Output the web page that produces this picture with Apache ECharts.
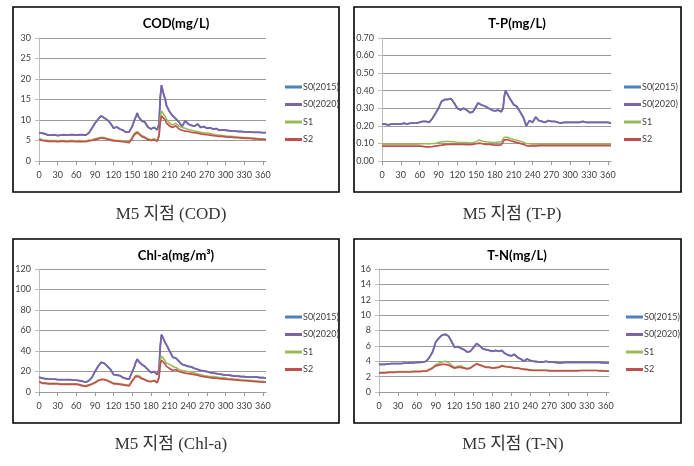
<!DOCTYPE html>
<html>
<head>
<meta charset="utf-8">
<script src="https://cdn.jsdelivr.net/npm/echarts@6/dist/echarts.min.js"></script>
<style>
html,body{margin:0;padding:0;background:#fff;}
#chart{width:694px;height:466px;}
</style>
</head>
<body>
<div id="chart"></div>
<script>
// ---- data ----
const seriesNames = ['S0(2015)', 'S0(2020)', 'S1', 'S2'];
const xTicks = [0, 30, 60, 90, 120, 150, 180, 210, 240, 270, 300, 330, 360];
const days = [0,5,10,15,20,25,30,35,40,45,
  50,55,60,65,70,75,80,85,90,95,
  100,105,110,115,120,125,130,135,140,145,
  148,150,153,155,158,160,165,170,175,180,
  185,190,193,195,197,200,203,205,210,215,
  220,225,230,235,240,245,250,255,260,265,
  270,275,280,285,290,295,300,305,310,315,
  320,325,330,335,340,345,350,355,360,365];

// COD (mg/L)
const codS0_2020 = [6.9,6.8,6.6,6.3,6.3,6.4,6.2,6.3,6.4,6.3,
  6.4,6.4,6.3,6.4,6.4,6.3,6.8,8.0,9.2,10.2,
  11.0,10.5,10.0,9.2,8.0,8.3,7.8,7.5,7.0,7.1,
  7.0,8.5,9.8,10.5,11.7,10.8,9.8,9.5,8.3,7.8,
  8.2,7.6,9.0,15.5,18.5,16.5,15.0,13.5,12.0,11.0,
  10.3,9.5,8.4,9.8,9.0,8.7,8.5,9.0,8.2,8.4,
  8.0,8.1,7.8,7.9,7.5,7.6,7.5,7.4,7.3,7.3,
  7.2,7.2,7.1,7.1,7.1,7.0,7.0,7.0,6.9,6.9];
const codS0_2015 = codS0_2020; // hidden under S0(2020) in the reference
const codS1 = [5.5,5.2,5.1,5.0,5.0,5.0,4.9,5.0,5.0,4.9,
  5.0,5.0,4.9,5.0,4.9,4.9,5.1,5.2,5.4,5.6,
  5.8,5.7,5.5,5.3,5.1,5.0,5.0,4.9,4.8,4.7,
  4.8,5.8,6.7,7.0,7.2,6.8,6.2,5.9,5.4,5.2,
  5.4,5.0,6.5,10.5,12.2,11.5,10.8,10.2,9.2,8.8,
  9.2,8.5,8.2,8.0,7.7,7.5,7.3,7.2,7.0,6.9,
  6.8,6.7,6.5,6.4,6.3,6.2,6.1,6.0,6.0,5.9,
  5.8,5.8,5.7,5.7,5.6,5.6,5.5,5.4,5.4,5.3];
const codS2 = [5.3,5.0,4.9,4.8,4.8,4.8,4.7,4.8,4.8,4.7,
  4.8,4.8,4.7,4.8,4.7,4.7,4.9,5.0,5.2,5.4,
  5.6,5.5,5.3,5.1,4.9,4.9,4.8,4.7,4.6,4.5,
  4.6,5.5,6.4,6.8,6.9,6.5,6.0,5.7,5.2,5.0,
  5.2,4.8,6.0,9.5,11.0,10.5,10.0,9.3,8.5,8.2,
  8.6,7.8,7.5,7.3,7.2,7.0,6.9,6.8,6.6,6.5,
  6.4,6.3,6.2,6.1,6.0,6.0,5.9,5.8,5.8,5.7,
  5.7,5.6,5.6,5.5,5.5,5.4,5.4,5.3,5.3,5.2];

// T-P (mg/L)
const tpS0_2020 = [0.21,0.21,0.205,0.21,0.21,0.21,0.21,0.215,0.21,0.215,
  0.215,0.215,0.22,0.225,0.225,0.22,0.24,0.27,0.30,0.34,
  0.35,0.35,0.355,0.33,0.30,0.29,0.30,0.29,0.275,0.28,
  0.285,0.31,0.33,0.335,0.32,0.32,0.31,0.30,0.29,0.285,
  0.29,0.28,0.30,0.37,0.40,0.38,0.36,0.35,0.32,0.31,
  0.28,0.25,0.20,0.23,0.22,0.25,0.23,0.225,0.22,0.23,
  0.225,0.225,0.22,0.215,0.22,0.22,0.22,0.22,0.22,0.22,
  0.225,0.22,0.22,0.22,0.22,0.22,0.22,0.22,0.22,0.215];
const tpS0_2015 = tpS0_2020;
const tpS1 = [0.095,0.095,0.095,0.095,0.095,0.095,0.095,0.095,0.095,0.095,
  0.095,0.095,0.097,0.098,0.098,0.097,0.10,0.10,0.105,0.11,
  0.11,0.112,0.11,0.11,0.105,0.105,0.105,0.105,0.102,0.105,
  0.105,0.11,0.115,0.12,0.118,0.112,0.11,0.108,0.105,0.105,
  0.108,0.11,0.12,0.135,0.14,0.135,0.13,0.128,0.122,0.118,
  0.112,0.108,0.10,0.098,0.097,0.095,0.095,0.095,0.095,0.095,
  0.095,0.095,0.095,0.095,0.095,0.095,0.095,0.095,0.095,0.095,
  0.095,0.095,0.095,0.095,0.095,0.095,0.095,0.095,0.095,0.095];
const tpS2 = [0.085,0.085,0.085,0.085,0.085,0.085,0.085,0.085,0.085,0.085,
  0.085,0.085,0.085,0.083,0.08,0.08,0.082,0.085,0.088,0.09,
  0.093,0.095,0.095,0.095,0.095,0.095,0.095,0.093,0.093,0.095,
  0.095,0.098,0.10,0.102,0.10,0.098,0.095,0.095,0.093,0.09,
  0.09,0.092,0.10,0.12,0.128,0.122,0.118,0.115,0.11,0.105,
  0.10,0.095,0.088,0.085,0.087,0.085,0.087,0.088,0.087,0.087,
  0.088,0.087,0.088,0.087,0.088,0.088,0.087,0.088,0.088,0.088,
  0.088,0.088,0.088,0.088,0.088,0.087,0.087,0.087,0.087,0.087];

// Chl-a (mg/m3)
const chlS0_2020 = [14.5,13.5,13,12.5,12.5,12.5,12,12,12,12,
  12,11.5,11.5,11,10.5,9.5,11,14,20,25,
  29,28,25,22,17,16.5,16,14,13,12.5,
  12,20,24,28,32,30,27,25,22,19,
  20,17,22,45,56,52,48,46,40,34,
  33,30,27,26,25,24.5,23,22,21,20.5,
  20,19,18.5,18,17.5,17,16.5,16.5,16,15.5,
  15.5,15,15,14.5,14.5,14.5,14.5,14,14,13.5];
const chlS0_2015 = chlS0_2020;
const chlS1 = [10.5,9,9,8.5,8.5,8.5,8.5,8,8,8,
  8,8,8,7.5,6.5,6,7,8,9.5,11.5,
  12.5,12.5,11.5,10,8.5,8.5,8,7.5,7,6.5,
  6.5,11.5,14,16,17.5,16,14,12.5,11,10.5,
  11.5,9.5,15,30,35,33,30,28,27,25,
  24,22,21,20.5,20,19,18.5,17.5,17,16,
  15.5,15,15,14.5,14,14,13.5,13,13,12.5,
  12.5,12,12,11.5,11.5,11,11,10.5,10.5,10];
const chlS2 = [10,8.5,8.5,8,8,8,8,7.5,7.5,7.5,
  7.5,7.5,7.5,7,6,5.5,6.5,7.5,9,11,
  12,12,11,9.5,8,8,7.5,7,6.5,6,
  6,11,13,15,16.5,15,13,12,10.5,10,
  11,9,14,27,31,29,27,25,23,21,
  22,20,19,18.5,18,17.5,17,16.5,15.5,15,
  14.5,14,13.5,13.5,13,12.8,12.5,12.2,12,11.8,
  11.5,11.2,11,10.8,10.5,10.3,10,9.8,9.5,9.5];

// T-N (mg/L)
const tnS0_2020 = [3.6,3.6,3.6,3.65,3.7,3.7,3.7,3.7,3.75,3.75,
  3.8,3.8,3.85,3.85,3.9,4.0,4.5,5.2,6.5,7.0,
  7.4,7.5,7.3,6.6,5.8,5.9,5.7,5.5,5.2,5.3,
  5.5,5.8,6.0,6.3,6.2,6.0,5.6,5.5,5.4,5.3,
  5.4,5.3,5.5,5.4,5.2,5.0,5.0,4.8,4.7,4.9,
  4.5,4.3,4.0,4.3,4.1,4.0,3.95,3.9,3.9,4.0,
  3.9,3.9,3.85,3.8,3.8,3.85,3.85,3.85,3.85,3.85,
  3.85,3.85,3.85,3.85,3.85,3.85,3.85,3.8,3.8,3.8];
const tnS0_2015 = tnS0_2020;
const tnS1 = [2.55,2.55,2.55,2.6,2.6,2.6,2.65,2.65,2.65,2.65,
  2.65,2.7,2.7,2.7,2.75,2.75,2.95,3.2,3.55,3.75,
  3.9,4.0,3.85,3.5,3.2,3.35,3.4,3.2,3.05,3.15,
  3.35,3.45,3.6,3.7,3.75,3.55,3.4,3.25,3.25,3.15,
  3.2,3.25,3.35,3.45,3.45,3.35,3.3,3.3,3.25,3.15,
  3.15,3.05,3.0,2.95,2.9,2.85,2.85,2.85,2.85,2.85,
  2.8,2.8,2.8,2.8,2.8,2.8,2.8,2.8,2.8,2.8,
  2.8,2.8,2.8,2.8,2.8,2.8,2.8,2.8,2.75,2.75];
const tnS2 = [2.5,2.5,2.5,2.55,2.55,2.55,2.6,2.6,2.6,2.6,
  2.6,2.65,2.65,2.65,2.7,2.7,2.9,3.1,3.4,3.5,
  3.6,3.6,3.5,3.3,3.1,3.2,3.2,3.1,3.0,3.1,
  3.3,3.4,3.55,3.65,3.7,3.5,3.35,3.2,3.2,3.1,
  3.15,3.2,3.3,3.4,3.4,3.3,3.25,3.25,3.2,3.1,
  3.1,3.0,2.95,2.9,2.85,2.8,2.8,2.8,2.8,2.8,
  2.75,2.75,2.75,2.75,2.75,2.75,2.75,2.75,2.75,2.75,
  2.8,2.8,2.8,2.8,2.8,2.8,2.75,2.75,2.7,2.7];

const panelTitles = ['COD(mg/L)', 'T-P(mg/L)', 'Chl-a(mg/m³)', 'T-N(mg/L)'];
const panelCaptions = ['M5 지점 (COD)', 'M5 지점 (T-P)', 'M5 지점 (Chl-a)', 'M5 지점 (T-N)'];
const yMax = [30, 0.7, 120, 16];
const yStep = [5, 0.1, 20, 2];
const yDecimals = [0, 2, 0, 0];
const panelData = [
  [codS0_2015, codS0_2020, codS1, codS2],
  [tpS0_2015, tpS0_2020, tpS1, tpS2],
  [chlS0_2015, chlS0_2020, chlS1, chlS2],
  [tnS0_2015, tnS0_2020, tnS1, tnS2]
];

// ---- layout / style ----
const colors = ['#4F81BD', '#7B63A8', '#9BBB59', '#C0504D'];
const lineWidths = [1.6, 1.8, 1.6, 1.7];
const layout = [
  {box:[13,7,326,185], grid:{left:39, top:38, width:227, height:123}, titleX:176, titleY:24, legX:285, legY:81, capX:171, capY:215},
  {box:[354,7,327,185], grid:{left:382, top:38, width:229, height:123}, titleX:517, titleY:24, legX:624, legY:81, capX:512, capY:215},
  {box:[13,239,326,184], grid:{left:39, top:269, width:227, height:123}, titleX:176, titleY:256, legX:285, legY:311, capX:171, capY:445},
  {box:[354,239,327,184], grid:{left:379, top:269, width:230, height:123}, titleX:517, titleY:256, legX:626, legY:311, capX:513, capY:445}
];
const tickFont = 'Lato, "Noto Sans", sans-serif';

const grids = [], xAxes = [], yAxes = [], series = [], legends = [], graphics = [];
layout.forEach((L, p) => {
  grids.push(L.grid);
  xAxes.push({
    type: 'value', gridIndex: p, min: 0, max: 365, interval: 30,
    axisLine: {show: true, lineStyle: {color: '#9a9a9a', width: 1}},
    axisTick: {show: true, inside: false, length: 4, lineStyle: {color: '#9a9a9a'}, customValues: xTicks},
    axisLabel: {fontSize: 9, color: '#404040', margin: 10, fontFamily: tickFont, customValues: xTicks},
    splitLine: {show: false}
  });
  yAxes.push({
    type: 'value', gridIndex: p, min: 0, max: yMax[p], interval: yStep[p],
    axisLine: {show: true, lineStyle: {color: '#bdbdbd', width: 1}},
    axisTick: {show: true, inside: false, length: 4, lineStyle: {color: '#bdbdbd'}},
    axisLabel: {fontSize: 9, color: '#404040', margin: 8, fontFamily: tickFont,
      formatter: v => Number(v).toFixed(yDecimals[p])},
    splitLine: {show: true, lineStyle: {color: '#9a9a9a', width: 1}}
  });
  panelData[p].forEach((arr, k) => {
    series.push({
      name: seriesNames[k], type: 'line', xAxisIndex: p, yAxisIndex: p,
      data: days.map((d, j) => [d, arr[j]]),
      symbol: 'none', showSymbol: false,
      lineStyle: {width: lineWidths[k], color: colors[k]}, itemStyle: {color: colors[k]},
      z: 2 + k, silent: true
    });
  });
  legends.push({
    orient: 'vertical', left: L.legX, top: L.legY, data: seriesNames,
    icon: 'rect', itemWidth: 17, itemHeight: 3, itemGap: 5.5,
    textStyle: {fontSize: 9, color: '#404040', lineHeight: 12, fontFamily: tickFont, padding: [0,0,0,-4]},
    padding: 0, selectedMode: false
  });
  graphics.push({type: 'rect', shape: {x: L.box[0], y: L.box[1], width: L.box[2], height: L.box[3]},
    style: {fill: 'none', stroke: '#000', lineWidth: 1.6}, silent: true});
  graphics.push({type: 'text', x: L.titleX, y: L.titleY,
    style: {text: panelTitles[p], font: 'bold 13px Lato, "Noto Sans", sans-serif', fill: '#000',
      align: 'center', verticalAlign: 'middle', textAlign: 'center', textVerticalAlign: 'middle'}, silent: true});
  graphics.push({type: 'text', x: L.capX, y: L.capY,
    style: {text: panelCaptions[p], font: '17px "Liberation Serif", "DejaVu Serif", "Noto Sans CJK KR", serif', fill: '#333',
      align: 'center', verticalAlign: 'middle', textAlign: 'center', textVerticalAlign: 'middle'}, silent: true});
});

const chart = echarts.init(document.getElementById('chart'), null, {renderer: 'canvas'});
chart.setOption({
  animation: false,
  backgroundColor: '#fff',
  grid: grids, xAxis: xAxes, yAxis: yAxes, series: series, legend: legends,
  graphic: graphics
});
</script>
</body>
</html>
